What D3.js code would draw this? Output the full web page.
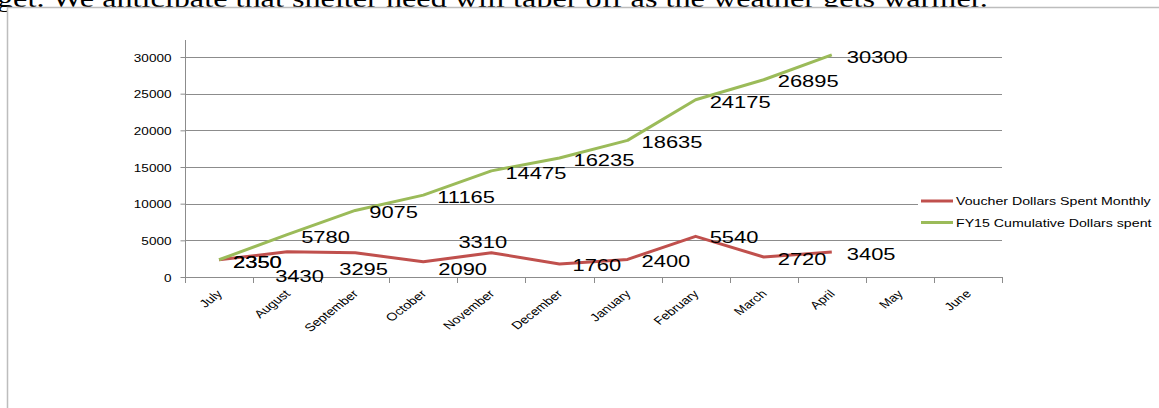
<!DOCTYPE html>
<html>
<head>
<meta charset="utf-8">
<script src="https://cdn.jsdelivr.net/npm/d3@7"></script>
<style>
  html, body { margin: 0; padding: 0; background: #fff; }
  svg { display: block; }
</style>
</head>
<body>
<svg id="chart" width="1159" height="408"></svg>
<script>
// Fiscal-year months on the category axis
const months = ["July", "August", "September", "October", "November", "December",
                "January", "February", "March", "April", "May", "June"];

// Voucher dollars spent in each month (FY15, July–April reported)
const monthlySpent = [2350, 3430, 3295, 2090, 3310, 1760, 2400, 5540, 2720, 3405];

// Running total of dollars spent in FY15
const cumulativeSpent = [2350, 5780, 9075, 11165, 14475, 16235, 18635, 24175, 26895, 30300];

// Value-axis tick labels
const yTicks = [0, 5000, 10000, 15000, 20000, 25000, 30000];

const seriesNames = ["Voucher Dollars Spent Monthly", "FY15 Cumulative Dollars spent"];
const seriesColors = ["#c0504d", "#9bbb59"];

// Label nudges (left edge / vertical centre relative to the point) so labels stay clear of each other
const monthlyLabelShift = [[14, 2], [-12, 24], [-16, 16], [15, 7], [-33, -11], [13, 1], [14, 2], [14, 1], [14, 2], [15, 2]];
const cumulativeLabelShift = [[14, 2], [14, 2], [14, 2], [14, 2], [14, 2], [14, 2], [14, 2], [14, 2], [14, 1], [15, 2]];

const SX = 1.29; // the embedded chart is stretched horizontally
const svg = d3.select("#chart");

// Paragraph text running above the embedded chart
svg.append("text")
  .attr("transform", "translate(-3,7) scale(" + SX + ",1)")
  .attr("font-family", "Liberation Serif, Times New Roman, serif")
  .attr("font-size", 25)
  .attr("fill", "#000")
  .text("get.  We anticipate that shelter need will taper off as the weather gets warmer.");

// Chart frame
svg.append("rect")
  .attr("x", 7.5).attr("y", 7.5)
  .attr("width", 1200).attr("height", 500)
  .attr("fill", "#fff")
  .attr("stroke", "#bdbdbd").attr("stroke-width", 1.5);

const x = d3.scaleBand().domain(months).range([185, 1002]);
const y = d3.scaleLinear().domain([0, 30000]).range([277, 57]);
const cx = i => x(months[i]) + x.bandwidth() / 2;

const gridColor = "#8c8c8c";

// Horizontal gridlines
svg.append("g").selectAll("line").data(yTicks.filter(v => v > 0)).join("line")
  .attr("x1", 185).attr("x2", 1002)
  .attr("y1", d => Math.round(y(d)) + 0.5).attr("y2", d => Math.round(y(d)) + 0.5)
  .attr("stroke", gridColor).attr("stroke-width", 1);

// Value axis
const yAxis = svg.append("g")
  .attr("transform", "translate(185.5,0)")
  .call(d3.axisLeft(y).tickValues(yTicks).tickSize(5).tickSizeOuter(0).tickFormat(d3.format("d")));
yAxis.select(".domain").attr("stroke", gridColor).attr("d", "M0,277V40");
yAxis.selectAll(".tick line").attr("stroke", gridColor);
yAxis.selectAll(".tick text")
  .attr("font-family", "Liberation Sans, Arial, sans-serif")
  .attr("font-size", 10.5).attr("fill", "#000")
  .attr("x", 0).attr("dy", null)
  .attr("transform", "translate(-14,4) scale(" + SX + ",1)")
  .attr("text-anchor", "end");

// Category axis
const xAxis = svg.append("g")
  .attr("transform", "translate(0,277.5)")
  .call(d3.axisBottom(x).tickSize(0).tickSizeOuter(0));
xAxis.select(".domain").attr("stroke", gridColor).attr("d", "M185,0H1002");
xAxis.selectAll(".tick line").remove();
xAxis.selectAll(".tick text")
  .attr("font-family", "Liberation Sans, Arial, sans-serif")
  .attr("font-size", 11).attr("fill", "#000")
  .attr("y", 0).attr("dy", null)
  .attr("text-anchor", "end")
  .attr("transform", "translate(4,17) scale(" + SX + ",1) rotate(-45)");
// Category boundary tick marks
svg.append("g").selectAll("line").data(d3.range(months.length + 1)).join("line")
  .attr("x1", i => Math.round(185 + i * x.step()) + 0.5)
  .attr("x2", i => Math.round(185 + i * x.step()) + 0.5)
  .attr("y1", 277).attr("y2", 283)
  .attr("stroke", gridColor);

// Series lines
const series = [monthlySpent, cumulativeSpent];
const line = d3.line().x((d, i) => cx(i)).y(d => y(d));
series.forEach((vals, k) => {
  svg.append("path").datum(vals)
    .attr("d", line)
    .attr("fill", "none")
    .attr("stroke", seriesColors[k])
    .attr("stroke-width", 3)
    .attr("stroke-linejoin", "round");
});

// Data labels
const shifts = [monthlyLabelShift, cumulativeLabelShift];
series.forEach((vals, k) => {
  svg.append("g").selectAll("text").data(vals).join("text")
    .attr("transform", (d, i) => "translate(" + (cx(i) + shifts[k][i][0]) + "," + (y(d) + shifts[k][i][1] + 6) + ") scale(" + SX + ",1)")
    .attr("font-family", "Liberation Sans, Arial, sans-serif")
    .attr("font-size", 17).attr("fill", "#000")
    .text(d => d);
});

// Legend
const legend = svg.append("g");
legend.append("rect").attr("x", 918).attr("y", 190).attr("width", 241).attr("height", 42).attr("fill", "#fff");
seriesNames.forEach((name, k) => {
  const ly = 201 + k * 21.5;
  legend.append("line")
    .attr("x1", 921).attr("x2", 953).attr("y1", ly).attr("y2", ly)
    .attr("stroke", seriesColors[k]).attr("stroke-width", 3);
  legend.append("text")
    .attr("transform", "translate(956," + (ly + 4) + ") scale(" + SX + ",1)")
    .attr("font-family", "Liberation Sans, Arial, sans-serif")
    .attr("font-size", 11).attr("fill", "#000")
    .text(name);
});
</script>
</body>
</html>
